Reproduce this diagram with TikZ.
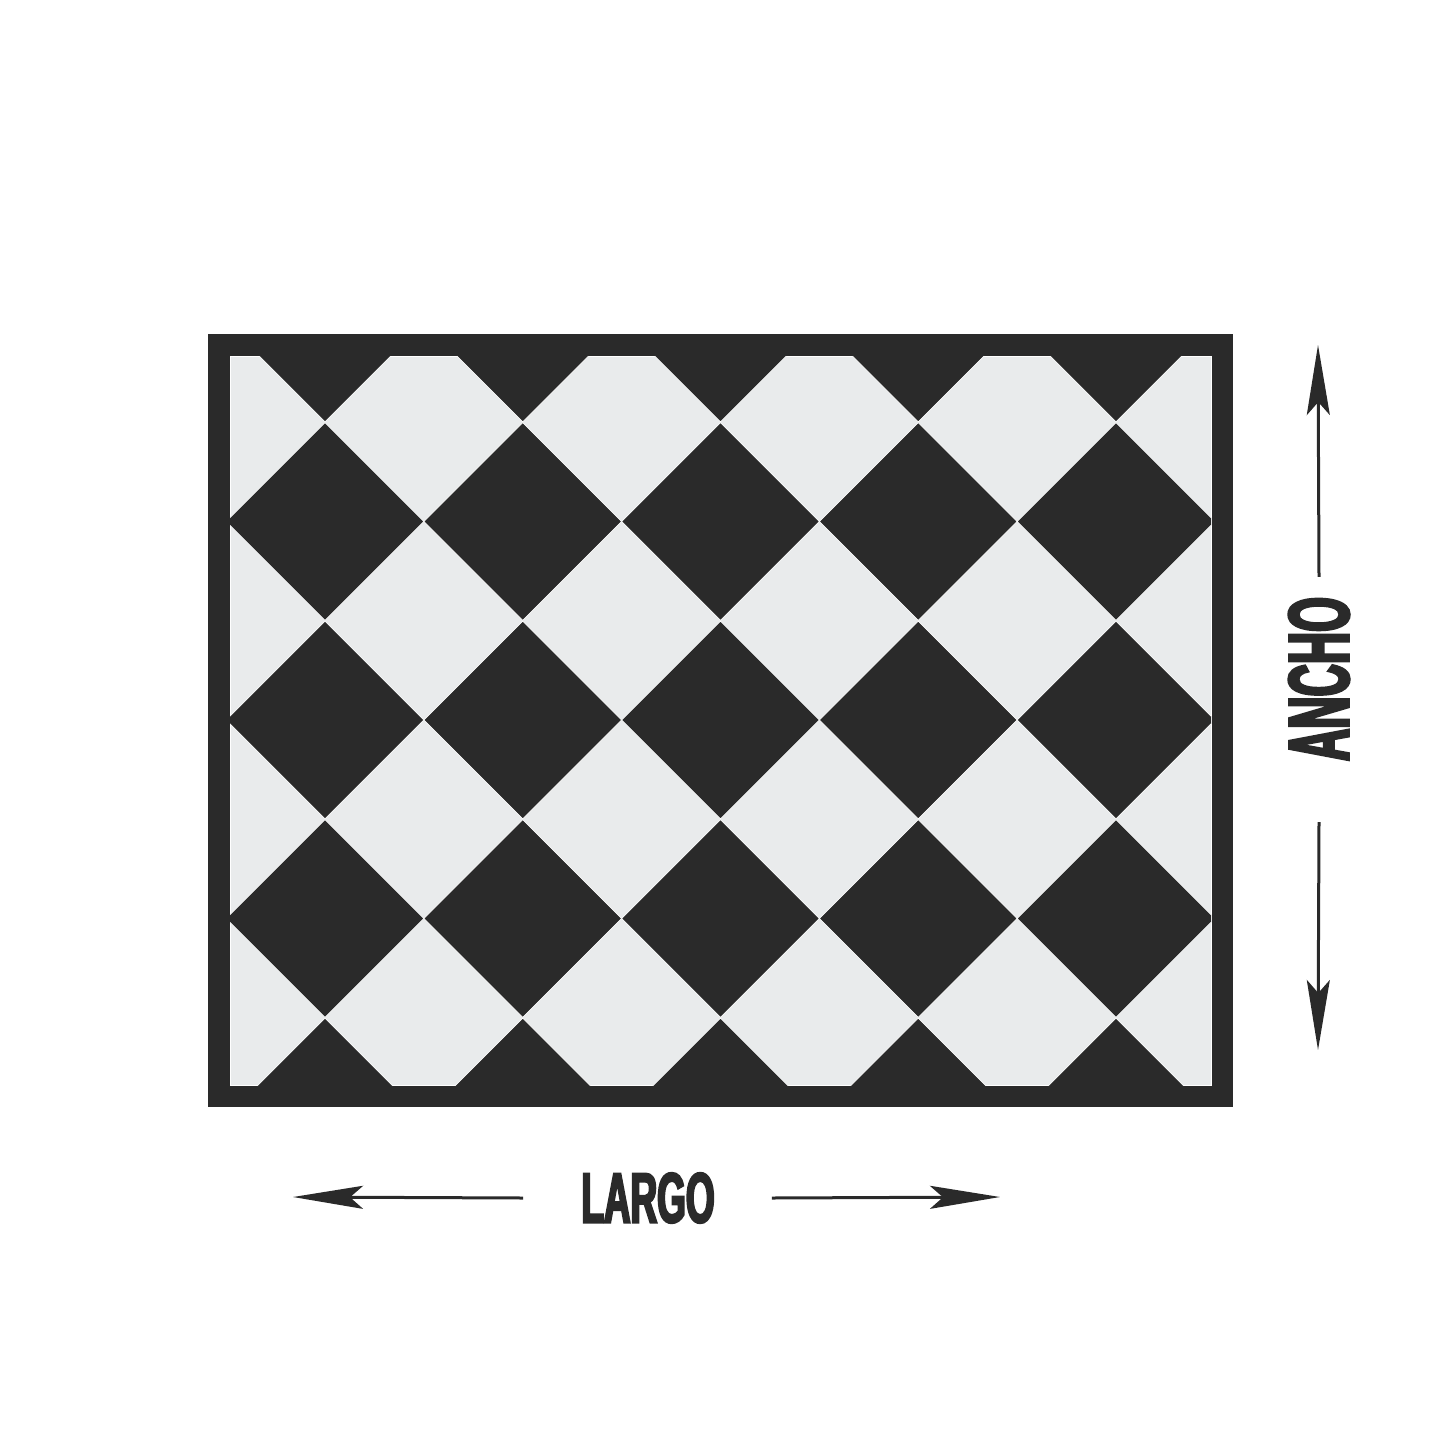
\documentclass[tikz,border=0pt]{standalone}
\usepackage{fontspec}
\usetikzlibrary{arrows.meta}
\newfontfamily\dimfont{Liberation Sans}[FakeStretch=0.52,FakeBold=3]

\definecolor{tiledark}{HTML}{2A2A2A}
\definecolor{tilelight}{HTML}{E9EBEC}

\tikzset{
  dimarrow/.style={
    -{Stealth[length=70pt,width=23pt,inset=13pt]},
    line width=3pt,
    draw=tiledark
  },
  dimlabel/.style={
    inner sep=0pt,
    text=tiledark
  }
}

\begin{document}
\begin{tikzpicture}[x=1pt,y=-1pt]
\useasboundingbox (0,0) rectangle (1440,1440);
% frame and tile field
\fill[tiledark] (208,334) rectangle (1233,1107);
\filldraw[fill=tilelight, draw=white, line width=0.8pt] (230,356) rectangle (1211,1085);
\begin{scope}
\clip (230,356) rectangle (1211,1085);
\foreach \i in {0,...,4}
  \foreach \j in {0,...,4}
    \filldraw[fill=tiledark, draw=white, line width=0.8pt]
      ({325+197.75*\i},{323+198.5*\j})
      +(-98.9,0) -- +(0,-98.9) -- +(98.9,0) -- +(0,98.9) -- cycle;
\end{scope}

% labels
\node[dimlabel, font=\dimfont\bfseries\fontsize{71}{71}\selectfont]
  (largo) at (648,1198) {LARGO};
\node[dimlabel, rotate=90, font=\dimfont\bfseries\fontsize{86}{86}\selectfont]
  (ancho) at (1319,679) {ANCHO};

% arrow tips
\coordinate (lTip) at (293,1197);
\coordinate (rTip) at (1000,1197);
\coordinate (uTip) at (1318,345);
\coordinate (dTip) at (1318,1050);

\draw[dimarrow] ([xshift=-58pt]largo.west) -- (lTip);
\draw[dimarrow] ([xshift=57pt]largo.east) -- (rTip);
\draw[dimarrow] ([yshift=20pt]ancho.east) -- (uTip);
\draw[dimarrow] ([yshift=-61pt]ancho.west) -- (dTip);
\end{tikzpicture}
\end{document}
